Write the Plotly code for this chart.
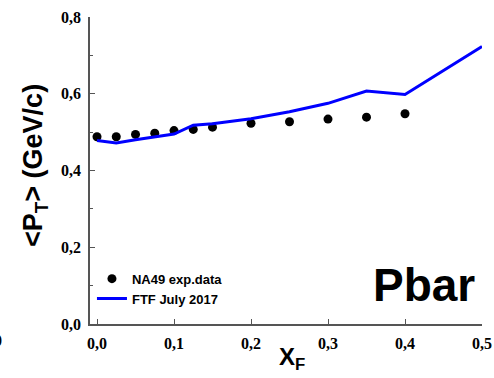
import plotly.graph_objects as go

# Data
xf_data = [0.0, 0.025, 0.05, 0.075, 0.1, 0.125, 0.15, 0.2, 0.25, 0.3, 0.35, 0.4]
pt_data = [0.488, 0.488, 0.494, 0.497, 0.504, 0.507, 0.513, 0.523, 0.527, 0.534, 0.539, 0.548]

xf_ftf = [0.0, 0.025, 0.05, 0.075, 0.1, 0.125, 0.15, 0.2, 0.25, 0.3, 0.35, 0.4, 0.5]
pt_ftf = [0.478, 0.472, 0.480, 0.488, 0.495, 0.518, 0.522, 0.535, 0.553, 0.575, 0.607, 0.598, 0.723]

x_ticks = [0.0, 0.1, 0.2, 0.3, 0.4, 0.5]
y_ticks = [0.0, 0.2, 0.4, 0.6, 0.8]

fig = go.Figure()
fig.add_trace(go.Scatter(
    x=xf_data, y=pt_data, mode="markers", name="NA49 exp.data",
    marker=dict(color="black", size=9, symbol="circle"),
))
fig.add_trace(go.Scatter(
    x=xf_ftf, y=pt_ftf, mode="lines", name="FTF July 2017",
    line=dict(color="#0000ff", width=3),
))

axis_color = "#555555"
tick_font = dict(family="Liberation Serif", size=16, color="black", weight="bold")

fig.update_layout(
    width=494, height=378,
    margin=dict(l=90, r=12, t=17, b=54),
    paper_bgcolor="white", plot_bgcolor="white",
    separators=",.",
    showlegend=True,
    legend=dict(
        x=0.005, y=0.115, xanchor="left", yanchor="middle",
        bgcolor="rgba(0,0,0,0)",
        font=dict(family="Liberation Sans", size=13, color="black", weight="bold"),
        tracegroupgap=0, itemwidth=30,
    ),
    xaxis=dict(
        range=[-0.0091, 0.5], tickvals=x_ticks, tickformat=".1f", automargin=False,
        ticks="inside", ticklen=5, tickwidth=1.3, tickcolor=axis_color,
        showline=True, linecolor=axis_color, linewidth=1.5,
        showgrid=False, zeroline=False, tickfont=tick_font, ticklabelstandoff=4,
    ),
    yaxis=dict(
        range=[0, 0.8], tickvals=y_ticks, tickformat=".1f", automargin=False,
        ticks="inside", ticklen=5, tickwidth=1.3, tickcolor=axis_color,
        minor=dict(tickvals=[0.1, 0.3, 0.5, 0.7], ticks="inside", ticklen=3, tickcolor=axis_color),
        showline=True, linecolor=axis_color, linewidth=1.5,
        showgrid=False, zeroline=False, tickfont=tick_font, ticklabelstandoff=4,
    ),
)

sans_bold = dict(family="Liberation Sans", color="black", weight="bold")

fig.add_annotation(
    text="&lt;P<sub>T</sub>&gt; (GeV/c)", textangle=-90,
    xref="paper", yref="paper", x=-55/392, y=(324-166)/307,
    xanchor="center", yanchor="middle", showarrow=False,
    font=dict(size=27, **sans_bold),
)
fig.add_annotation(
    text="X<sub>F</sub>",
    xref="paper", yref="paper", x=(292-90)/392, y=-(358-324)/307,
    xanchor="center", yanchor="middle", showarrow=False,
    font=dict(size=24, **sans_bold),
)
fig.add_annotation(
    text="Pbar",
    xref="paper", yref="paper", x=(424-90)/392, y=(324-285)/307,
    xanchor="center", yanchor="middle", showarrow=False,
    font=dict(size=46, **sans_bold),
)
fig.add_annotation(
    text="0",
    xref="paper", yref="paper", x=-86/392, y=-(340-324)/307,
    xanchor="right", yanchor="middle", showarrow=False,
    font=tick_font,
)

fig.write_html("out.html")
